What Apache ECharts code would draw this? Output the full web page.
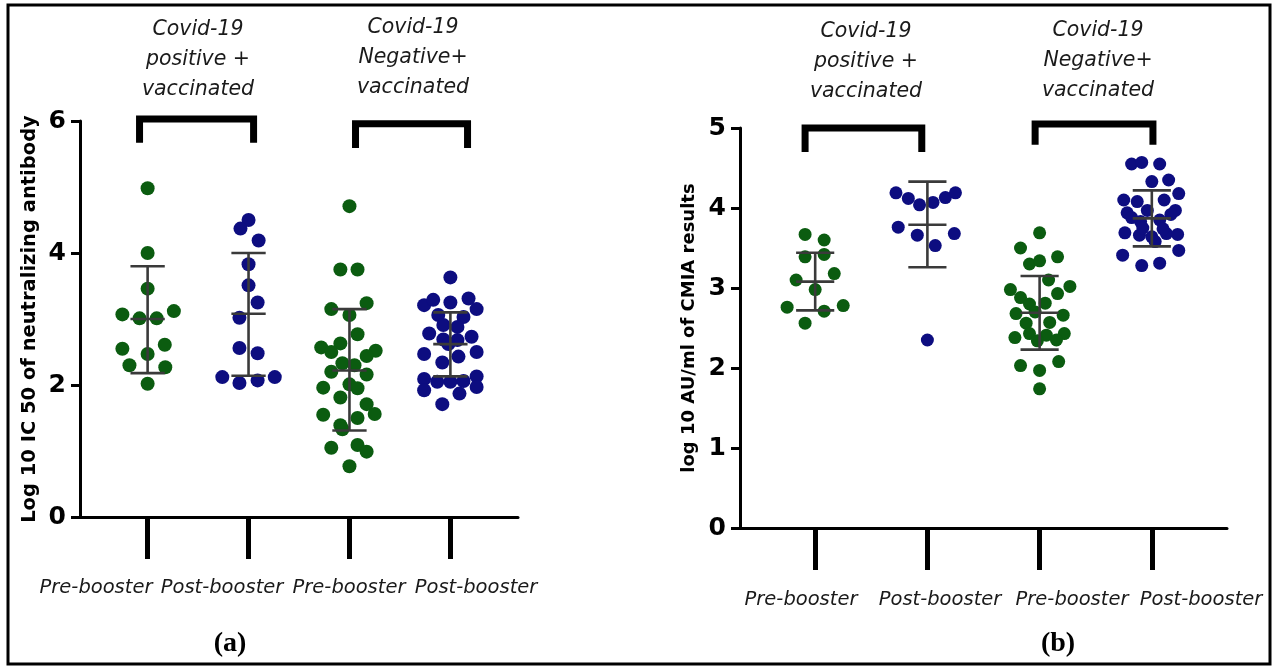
<!DOCTYPE html>
<html>
<head>
<meta charset="utf-8">
<script src="https://cdn.jsdelivr.net/npm/echarts@6/dist/echarts.min.js"></script>
<style>html,body{margin:0;padding:0;background:#fff}#c{width:1276px;height:669px}</style>
</head>
<body>
<div id="c"></div>
<script>
// ---------- DATA ----------
const categories = ['Pre-booster', 'Post-booster', 'Pre-booster', 'Post-booster'];
const groupTitles = ['Covid-19\npositive +\nvaccinated', 'Covid-19\nNegative+\nvaccinated'];
const panelLabels = ['(a)', '(b)'];
const yTicksA = [0, 2, 4, 6];
const yTicksB = [0, 1, 2, 3, 4, 5];
const yNameA = 'Log 10 IC 50 of neutralizing antibody';
const yNameB = 'log 10 AU/ml of CMIA results';

// points: [horizontal swarm offset (category units), value]
const aPosPre = [[0,4.98],[0,4.00],[0,3.46],[-0.25,3.07],[-0.08,3.01],[0.09,3.01],[0.26,3.12],
  [-0.25,2.55],[0,2.47],[0.17,2.61],[-0.18,2.30],[0.175,2.27],[0,2.02]];
const aPosPost = [[0,4.50],[-0.08,4.37],[0.10,4.19],[0,3.83],[0,3.51],[0.09,3.25],[-0.09,3.02],
  [-0.09,2.56],[0.09,2.48],[-0.26,2.12],[-0.09,2.03],[0.09,2.07],[0.26,2.12]];
const aNegPre = [[0,4.71],[-0.09,3.75],[0.08,3.75],[-0.18,3.15],[0.17,3.24],[0,3.06],[0.08,2.77],
  [-0.28,2.57],[-0.09,2.63],[-0.18,2.50],[0.26,2.52],[0.17,2.44],[-0.07,2.33],[0.05,2.30],
  [-0.18,2.20],[0.17,2.16],[-0.26,1.96],[0,2.01],[0.08,1.95],[-0.09,1.81],[0.17,1.71],
  [-0.26,1.55],[0.08,1.50],[0.25,1.56],[-0.09,1.39],[-0.07,1.33],[-0.18,1.05],[0.08,1.09],
  [0.17,0.99],[0,0.77]];
const aNegPost = [[0,3.63],[-0.26,3.21],[-0.17,3.29],[0,3.25],[0.18,3.31],[0.26,3.15],[-0.12,3.06],
  [0.13,3.03],[-0.07,2.91],[0.07,2.88],[-0.21,2.78],[0.21,2.73],[-0.07,2.69],[0.07,2.68],
  [-0.26,2.47],[0.26,2.50],[0.08,2.43],[-0.08,2.34],[-0.26,2.09],[-0.13,2.05],[0,2.05],
  [0.13,2.06],[0.26,2.13],[-0.26,1.92],[0.26,1.97],[0.09,1.87],[-0.08,1.71],[-0.02,2.62]];

const bPosPre = [[-0.09,3.67],[0.08,3.60],[-0.09,3.39],[0.08,3.42],[-0.17,3.10],[0.17,3.18],
  [0,2.98],[-0.25,2.76],[0.25,2.78],[0.08,2.71],[-0.09,2.56]];
const bPosPost = [[-0.28,4.19],[-0.17,4.12],[-0.07,4.04],[0.05,4.07],[0.16,4.13],[0.25,4.19],
  [-0.26,3.76],[-0.09,3.66],[0.07,3.53],[0.24,3.68],[0,2.35]];
const bNegPre = [[0,3.69],[-0.17,3.50],[-0.09,3.30],[0,3.34],[0.16,3.39],[-0.26,2.98],[0.08,3.10],
  [0.27,3.02],[-0.17,2.88],[0.16,2.93],[-0.09,2.80],[0.05,2.81],[-0.21,2.68],[-0.04,2.70],
  [0.21,2.66],[0.09,2.57],[-0.12,2.56],[-0.22,2.38],[-0.09,2.43],[0.06,2.41],[0.22,2.43],
  [-0.02,2.34],[0.15,2.35],[-0.17,2.03],[0,1.97],[0.17,2.08],[0,1.74]];
const bNegPost = [[-0.18,4.55],[-0.09,4.57],[0.07,4.55],[0,4.33],[0.15,4.35],[0.24,4.18],
  [-0.25,4.10],[-0.13,4.08],[0.11,4.10],[-0.22,3.94],[-0.04,3.97],[0.21,3.97],[-0.10,3.83],
  [0.07,3.85],[-0.24,3.69],[-0.11,3.66],[0,3.64],[0.13,3.68],[0.23,3.67],[-0.08,3.75],
  [0.03,3.58],[-0.26,3.41],[0.24,3.47],[-0.09,3.28],[0.07,3.31],[0.10,3.74],[-0.18,3.88],[0.17,3.92]];

// error bars (mean, lower, upper)
const meanA = [3.00, 3.08, 2.22, 2.62];
const lowA  = [2.18, 2.14, 1.31, 2.13];
const highA = [3.80, 4.00, 3.15, 3.10];
const meanB = [3.08, 3.79, 2.69, 3.87];
const lowB  = [2.72, 3.26, 2.23, 3.52];
const highB = [3.44, 4.33, 3.15, 4.22];

// brackets: [x left, x right, y top, y leg end]
const bracketsA = [[0.92, 2.05, 6.03, 5.67], [3.06, 4.17, 5.96, 5.59]];
const bracketsB = [[0.91, 1.95, 5.00, 4.70], [2.96, 4.01, 5.05, 4.79]];

// ---------- CHART ----------
const GREEN = '#0b5c10', NAVY = '#0d0d80';
const FONT = 'DejaVu Sans';
const chart = echarts.init(document.getElementById('c'), null, {renderer: 'canvas'});

function pts(arr, cat) { return arr.map(p => [cat + p[0], p[1]]); }
function errData(m, lo, hi) { return m.map((v, i) => [i + 1, v, lo[i], hi[i]]); }

function errRender(params, api) {
  const x = api.value(0), m = api.value(1), lo = api.value(2), hi = api.value(3);
  const pL = api.coord([x, lo]), pH = api.coord([x, hi]), pM = api.coord([x, m]);
  const hw = api.size([0.17, 0])[0];
  const st = {stroke: '#3a3a3a', lineWidth: 2.6, fill: null};
  return {type: 'group', children: [
    {type: 'line', shape: {x1: pL[0], y1: pL[1], x2: pH[0], y2: pH[1]}, style: st},
    {type: 'line', shape: {x1: pL[0] - hw, y1: pL[1], x2: pL[0] + hw, y2: pL[1]}, style: st},
    {type: 'line', shape: {x1: pH[0] - hw, y1: pH[1], x2: pH[0] + hw, y2: pH[1]}, style: st},
    {type: 'line', shape: {x1: pM[0] - hw, y1: pM[1], x2: pM[0] + hw, y2: pM[1]}, style: st}
  ]};
}
function bracketRender(params, api) {
  const x1 = api.value(0), x2 = api.value(1), yt = api.value(2), yb = api.value(3);
  const a = api.coord([x1, yb]), b = api.coord([x1, yt]), c = api.coord([x2, yt]), d = api.coord([x2, yb]);
  return {type: 'polyline', shape: {points: [a, b, c, d]},
    style: {stroke: '#000', lineWidth: 7, fill: null, lineJoin: 'miter', lineCap: 'butt'}};
}

function xAxis(gi) {
  return {type: 'value', gridIndex: gi, min: 0.33, max: 4.67,
    axisLine: {show: true, onZero: false, lineStyle: {color: '#000', width: 3}},
    axisTick: {show: true, customValues: [1, 2, 3, 4], length: 42, lineStyle: {color: '#000', width: 5}},
    axisLabel: {show: false}, splitLine: {show: false}};
}
function yAxis(gi, max, interval, name, nameSize, gap) {
  return {type: 'value', gridIndex: gi, min: 0, max: max, interval: interval,
    name: name, nameLocation: 'middle', nameGap: gap,
    nameTextStyle: {fontFamily: FONT, fontWeight: 'bold', fontSize: nameSize, color: '#000'},
    axisLine: {show: true, lineStyle: {color: '#000', width: 3}},
    axisTick: {show: true, length: 9, lineStyle: {color: '#000', width: 3}},
    axisLabel: {margin: 14, fontFamily: FONT, fontWeight: 'bold', fontSize: 25, color: '#000'},
    splitLine: {show: false}};
}
function scatter(gi, data, color, size) {
  return {type: 'scatter', xAxisIndex: gi, yAxisIndex: gi, data: data, symbolSize: size,
    itemStyle: {color: color, opacity: 1}, z: 2, silent: true, animation: false};
}

const labelStyle = {font: 'italic 19.5px ' + FONT, fill: '#1a1a1a', align: 'center', verticalAlign: 'middle'};
const titleStyle = {font: 'italic 20.5px ' + FONT, fill: '#1a1a1a', align: 'center', verticalAlign: 'middle', lineHeight: 30};
const labelXA = [96, 222, 349, 476], labelXB = [801, 940, 1072, 1201];

const graphics = [
  {type: 'rect', shape: {x: 8, y: 5, width: 1262, height: 659}, style: {fill: null, stroke: '#000', lineWidth: 3}, z: 100},
  {type: 'text', x: 198, y: 60, style: Object.assign({text: groupTitles[0]}, titleStyle)},
  {type: 'text', x: 413, y: 58, style: Object.assign({text: groupTitles[1]}, titleStyle)},
  {type: 'text', x: 866, y: 62, style: Object.assign({text: groupTitles[0]}, titleStyle)},
  {type: 'text', x: 1098, y: 61, style: Object.assign({text: groupTitles[1]}, titleStyle)},
  {type: 'text', x: 230, y: 644, style: {text: panelLabels[0], font: 'bold 28px Liberation Serif', fill: '#000', align: 'center', verticalAlign: 'middle'}},
  {type: 'text', x: 1058, y: 644, style: {text: panelLabels[1], font: 'bold 28px Liberation Serif', fill: '#000', align: 'center', verticalAlign: 'middle'}}
];
categories.forEach((c, i) => {
  graphics.push({type: 'text', x: labelXA[i], y: 588, style: Object.assign({text: c}, labelStyle)});
  graphics.push({type: 'text', x: labelXB[i], y: 600, style: Object.assign({text: c}, labelStyle)});
});

chart.setOption({
  animation: false,
  backgroundColor: '#fff',
  grid: [
    {left: 80, top: 121, width: 438, height: 396},
    {left: 740, top: 128, width: 487, height: 400}
  ],
  xAxis: [xAxis(0), xAxis(1)],
  yAxis: [yAxis(0, 6, 2, yNameA, 19.5, 40), yAxis(1, 5, 1, yNameB, 18, 42)],
  series: [
    scatter(0, pts(aPosPre, 1), GREEN, 14),
    scatter(0, pts(aPosPost, 2), NAVY, 14),
    scatter(0, pts(aNegPre, 3), GREEN, 14),
    scatter(0, pts(aNegPost, 4), NAVY, 14),
    scatter(1, pts(bPosPre, 1), GREEN, 13),
    scatter(1, pts(bPosPost, 2), NAVY, 13),
    scatter(1, pts(bNegPre, 3), GREEN, 13),
    scatter(1, pts(bNegPost, 4), NAVY, 13),
    {type: 'custom', xAxisIndex: 0, yAxisIndex: 0, data: errData(meanA, lowA, highA), renderItem: errRender, z: 5, silent: true},
    {type: 'custom', xAxisIndex: 1, yAxisIndex: 1, data: errData(meanB, lowB, highB), renderItem: errRender, z: 5, silent: true},
    {type: 'custom', xAxisIndex: 0, yAxisIndex: 0, data: bracketsA, renderItem: bracketRender, clip: false, z: 5, silent: true},
    {type: 'custom', xAxisIndex: 1, yAxisIndex: 1, data: bracketsB, renderItem: bracketRender, clip: false, z: 5, silent: true}
  ],
  graphic: graphics
});
</script>
</body>
</html>
